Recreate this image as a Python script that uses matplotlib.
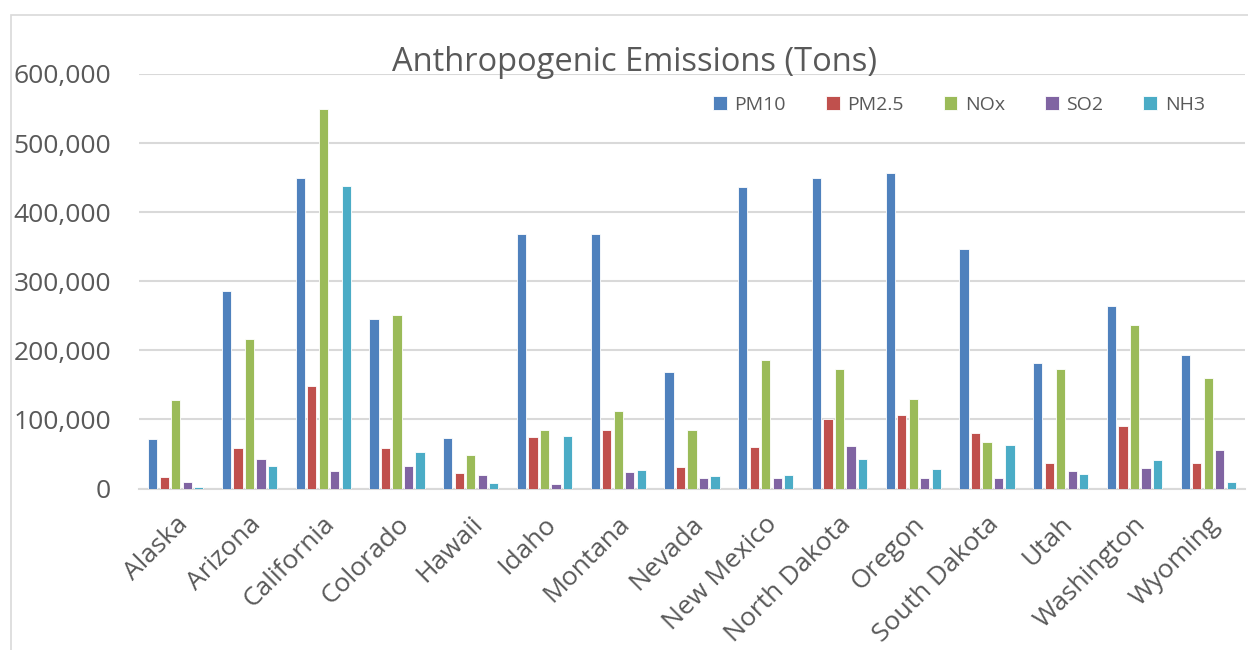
import numpy as np
import matplotlib.pyplot as plt
from matplotlib.patches import Rectangle
from matplotlib.ticker import FuncFormatter, FixedLocator
import matplotlib.transforms as mtransforms

plt.rcParams['font.family'] = ['Open Sans', 'DejaVu Sans']

states = ['Alaska', 'Arizona', 'California', 'Colorado', 'Hawaii', 'Idaho', 'Montana',
          'Nevada', 'New Mexico', 'North Dakota', 'Oregon', 'South Dakota', 'Utah',
          'Washington', 'Wyoming']
series_names = ['PM10', 'PM2.5', 'NOx', 'SO2', 'NH3']

pm10 = [71000, 286000, 449000, 245000, 73000, 369000, 369000, 168000, 437000, 449000,
        457000, 347000, 182000, 264000, 193000]
pm25 = [16000, 58000, 148000, 58000, 22000, 74000, 84000, 31000, 60000, 100000,
        106000, 81000, 37000, 90000, 37000]
nox = [128000, 217000, 550000, 251000, 49000, 84000, 112000, 84000, 186000, 173000,
       130000, 67000, 173000, 237000, 160000]
so2 = [10000, 43000, 25000, 33000, 20000, 6500, 24000, 15000, 15000, 62000,
       15000, 15000, 26000, 30000, 56000]
nh3 = [1500, 33000, 438000, 53000, 7500, 76000, 27000, 18000, 20000, 43000,
       28000, 63000, 21000, 41000, 10000]

colors = ['#4F81BD', '#C0504D', '#9BBB59', '#8064A2', '#4BACC6']
text_color = '#595959'
grid_color = '#D9D9D9'

fig = plt.figure(figsize=(12.48, 6.5), dpi=100)

# light frame around the chart area
fig.patches.append(Rectangle((11 / 1248, -0.1), 1.2, 1 - 15 / 650 + 0.1,
                             transform=fig.transFigure, fill=False,
                             edgecolor=grid_color, linewidth=1.2))

ax = fig.add_axes([139 / 1248, 1 - 488.5 / 650, 1106 / 1248, 414.5 / 650])

x = np.arange(len(states))
step = 0.156
width = 0.125
all_series = [pm10, pm25, nox, so2, nh3]
for i, (vals, name) in enumerate(zip(all_series, series_names)):
    ax.bar(x + (i - 2) * step, vals, width=width, color=colors[i], label=name,
           edgecolor='white', linewidth=0.6, zorder=3)

ax.set_xlim(-0.5, len(states) - 0.5)
ax.set_ylim(0, 600000)
ax.yaxis.set_major_locator(FixedLocator(np.arange(0, 600001, 100000)))
ax.yaxis.set_major_formatter(FuncFormatter(lambda v, p: '{:,.0f}'.format(v)))
ax.grid(axis='y', color=grid_color, linewidth=1.5, zorder=0)
for s in ['top', 'right', 'left']:
    ax.spines[s].set_visible(False)
ax.spines['bottom'].set_color(grid_color)
ax.spines['bottom'].set_linewidth(1.5)
ax.tick_params(axis='both', length=0, labelsize=19, labelcolor=text_color)
ax.tick_params(axis='y', pad=20)

ax.set_xticks(x)
ax.set_xticklabels(states, rotation=45, ha='right', va='center', rotation_mode='anchor')
ax.tick_params(axis='x', pad=23)
offset = mtransforms.ScaledTranslation(8 / 100, 0, fig.dpi_scale_trans)
for lab in ax.get_xticklabels():
    lab.set_transform(lab.get_transform() + offset)

fig.text(634 / 1248, 1 - 71 / 650, 'Anthropogenic Emissions (Tons)', ha='center',
         va='baseline', fontsize=23.5, color=text_color)

fig.legend(loc='center', bbox_to_anchor=(959 / 1248, 1 - 105 / 650), ncol=5,
           frameon=False, fontsize=14, labelcolor=text_color, handlelength=0.7,
           handleheight=0.7, handletextpad=0.4, columnspacing=2.05)

plt.savefig('out.png', dpi=100)
plt.close()
